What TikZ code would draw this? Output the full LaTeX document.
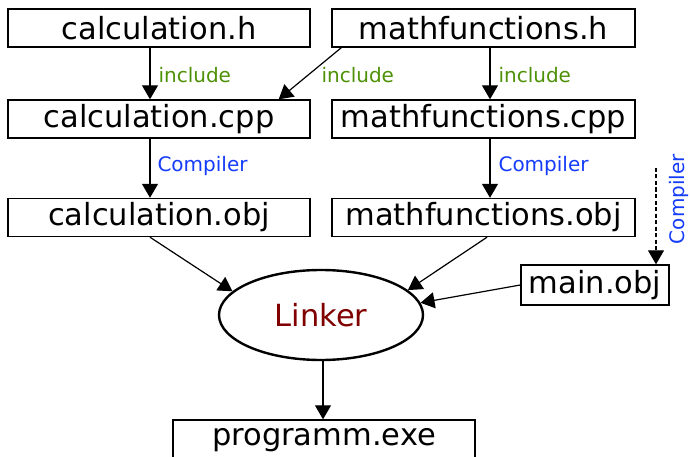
\documentclass[tikz,border=0pt]{standalone}
\usepackage{fontspec}
\setmainfont{DejaVu Sans}
\usetikzlibrary{arrows.meta,shapes.geometric}
\definecolor{incgreen}{RGB}{78,145,6}
\definecolor{compblue}{RGB}{20,60,250}
\definecolor{linkred}{RGB}{128,0,0}
\tikzset{
  file/.style={draw, line width=1.4pt, rectangle, inner sep=0pt,
    minimum height=38pt, font=\fontsize{30.5}{36}\selectfont},
  flow/.style={line width=1.2pt, -{Triangle[length=14pt,width=16pt]}},
  inclabel/.style={anchor=west, text=incgreen, font=\fontsize{20}{24}\selectfont},
  complabel/.style={anchor=west, text=compblue, font=\fontsize{20}{24}\selectfont},
}
\begin{document}
\begin{tikzpicture}[x=1pt, y=-1pt]
\useasboundingbox (0,0) rectangle (690,457);

% source and header files
\node[file, minimum width=302pt] (calch)   at (159,28)    {calculation.h};
\node[file, minimum width=303pt] (mathh)   at (483.5,28)  {mathfunctions.h};
\node[file, minimum width=302pt] (calccpp) at (159,119)   {calculation.cpp};
\node[file, minimum width=303pt] (mathcpp) at (483.5,119) {mathfunctions.cpp};
\node[file, minimum width=302pt] (calcobj) at (159,217.5) {calculation.obj};
\node[file, minimum width=303pt] (mathobj) at (483.5,217.5) {mathfunctions.obj};
\node[file, minimum width=148pt, minimum height=40pt] (mainobj) at (595,285) {main.obj};

% linker and result
\node[ellipse, draw, line width=2.4pt, minimum width=204pt, minimum height=90pt,
      inner sep=0pt, text=linkred, font=\fontsize{30.5}{36}\selectfont] (linker) at (321,315) {Linker};
\node[file, minimum width=302pt, minimum height=40pt] (prog) at (324,440) {programm.exe};

% include relations
\draw[flow] ([xshift=-9pt]calch.south) -- ([xshift=-9pt]calccpp.north);
\node[inclabel] (inc1) at (155,75) {include};
\draw[flow] ([xshift=10pt]mathh.south west) -- ([xshift=-32pt]calccpp.north east);
\node[inclabel] (inc2) at (318,75) {include};
\draw[flow] ([xshift=6.5pt]mathh.south) -- ([xshift=6.5pt]mathcpp.north);
\node[inclabel] (inc3) at (495,75) {include};

% compilation
\draw[flow] ([xshift=-9pt]calccpp.south) -- ([xshift=-9pt]calcobj.north);
\node[complabel] (comp1) at (154,166) {Compiler};
\draw[flow] ([xshift=6.5pt]mathcpp.south) -- ([xshift=6.5pt]mathobj.north);
\node[complabel] (comp2) at (495,166) {Compiler};
\coordinate (mainsrc) at (656,168);
\draw[flow, dash pattern=on 4pt off 2.5pt] (mainsrc) -- (mainsrc |- mainobj.north);
\node[text=compblue, font=\fontsize{20}{24}\selectfont, rotate=90] (comp3) at (679,199) {Compiler};

% linking
\draw[flow] ([xshift=-9pt]calcobj.south) -- (linker.165);
\draw[flow] ([xshift=3.5pt]mathobj.south) -- (linker.16);
\draw[flow] (mainobj.west) -- (linker.7);
\draw[flow] ([xshift=2pt]linker.south) -- ([xshift=2pt]linker.south |- prog.north);
\end{tikzpicture}
\end{document}
